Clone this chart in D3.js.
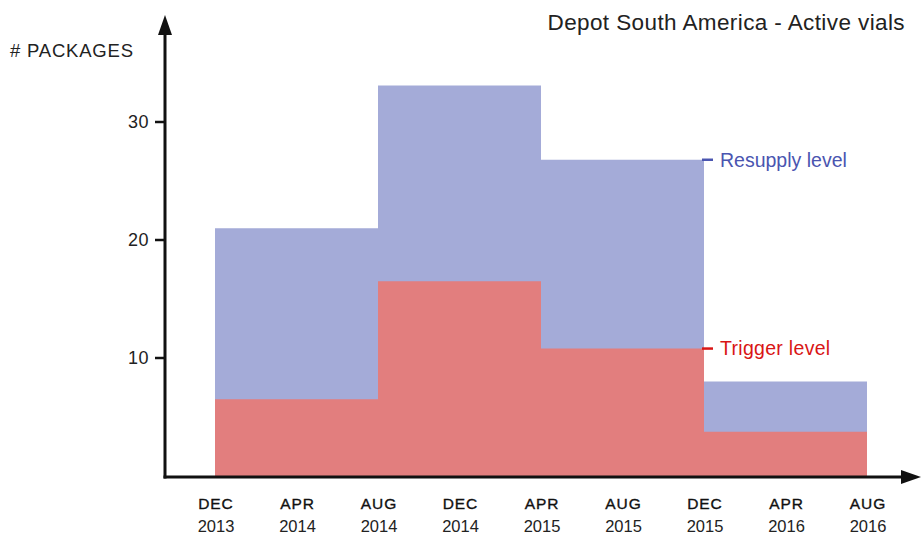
<!DOCTYPE html>
<html><head><meta charset="utf-8">
<script src="https://cdn.jsdelivr.net/npm/d3@7"></script>
<style>body{margin:0;background:#fff}svg{display:block}text{font-family:"Liberation Sans",Arial,sans-serif}</style>
</head><body><svg id="c" width="922" height="534"></svg>
<script>
const tickLabels = [["DEC","2013"],["APR","2014"],["AUG","2014"],["DEC","2014"],["APR","2015"],["AUG","2015"],["DEC","2015"],["APR","2016"],["AUG","2016"]];
const stepStarts = [0, 2, 4, 6, 8];          // tick indices where steps change
const resupply = [21.0, 33.1, 26.8, 8.0];
const trigger = [6.5, 16.5, 10.8, 3.75];
const yTicks = [10, 20, 30];

const svg = d3.select("#c");
const x = d3.scaleLinear().domain([0, 8]).range([215, 867]);
const y = d3.scaleLinear().domain([0, 30]).range([476, 122]);
const axisX = 165, axisY = 477;

function stepData(vals){
  const d = vals.map((v,i)=>({i:stepStarts[i], v}));
  d.push({i:stepStarts[vals.length], v: vals[vals.length-1]});
  return d;
}
const area = d3.area().curve(d3.curveStepAfter).x(d=>x(d.i)).y0(y(0)).y1(d=>y(d.v));
svg.append("path").datum(stepData(resupply)).attr("d", area).attr("fill", "#a4abd8");
svg.append("path").datum(stepData(trigger)).attr("d", area).attr("fill", "#e27e7e");

// axes
svg.append("line").attr("x1", axisX).attr("x2", axisX).attr("y1", axisY+1.5).attr("y2", 30).attr("stroke", "#111").attr("stroke-width", 3);
svg.append("path").attr("d", `M${axisX},15 L${axisX-7},35 L${axisX+7},35 Z`).attr("fill", "#111");
svg.append("line").attr("x1", axisX-1.5).attr("x2", 905).attr("y1", axisY).attr("y2", axisY).attr("stroke", "#111").attr("stroke-width", 3);
svg.append("path").attr("d", `M921,${axisY} L901,${axisY-7} L901,${axisY+7} Z`).attr("fill", "#111");

const yt = svg.append("g");
yTicks.forEach(t=>{
  yt.append("line").attr("x1", axisX-10).attr("x2", axisX).attr("y1", y(t)).attr("y2", y(t)).attr("stroke", "#111").attr("stroke-width", 2.5);
  yt.append("text").attr("x", 149).attr("y", y(t)).attr("dy", "0.35em").attr("text-anchor", "end").attr("font-size", 18).attr("letter-spacing", 0.5).attr("fill", "#222").text(t);
});

const xt = svg.append("g");
tickLabels.forEach((l,i)=>{
  xt.append("text").attr("x", x(i)+1).attr("y", 509).attr("text-anchor", "middle").attr("font-size", 15.5).attr("fill", "#111").attr("stroke", "#111").attr("stroke-width", 0.35).attr("letter-spacing", 0.9).text(l[0]);
  xt.append("text").attr("x", x(i)+1).attr("y", 532).attr("text-anchor", "middle").attr("font-size", 16.5).attr("fill", "#222").text(l[1]);
});

svg.append("text").attr("x", 10).attr("y", 57).attr("font-size", 18.5).attr("letter-spacing", 0.8).attr("fill", "#222").text("# PACKAGES");
svg.append("text").attr("x", 905).attr("y", 30).attr("text-anchor", "end").attr("font-size", 22.5).attr("letter-spacing", 0.4).attr("fill", "#222").text("Depot South America - Active vials");

// level markers
const lastX = x(stepStarts[3]);
const rv = resupply[2], tv = trigger[2];
svg.append("line").attr("x1", lastX-2).attr("x2", lastX+9).attr("y1", y(rv)).attr("y2", y(rv)).attr("stroke", "#4a55b0").attr("stroke-width", 2.5);
svg.append("text").attr("x", 720).attr("y", y(rv)).attr("dy", "0.35em").attr("font-size", 19.5).attr("fill", "#4a55b0").text("Resupply level");
svg.append("line").attr("x1", lastX-2).attr("x2", lastX+9).attr("y1", y(tv)).attr("y2", y(tv)).attr("stroke", "#d91515").attr("stroke-width", 2.5);
svg.append("text").attr("x", 720).attr("y", y(tv)).attr("dy", "0.35em").attr("font-size", 19.5).attr("letter-spacing", 0.3).attr("fill", "#d91515").text("Trigger level");
</script></body></html>
